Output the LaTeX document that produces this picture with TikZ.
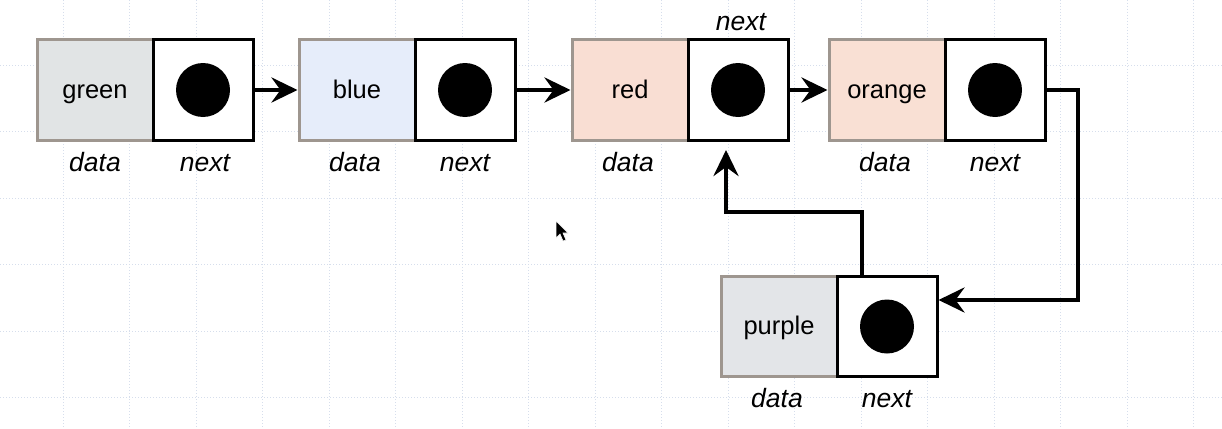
\documentclass[tikz,border=0pt]{standalone}
\usepackage{fontspec}
\setmainfont{Liberation Sans}
\usetikzlibrary{arrows.meta}
\definecolor{gridc}{RGB}{214,222,236}
\definecolor{databorder}{RGB}{158,150,143}
\definecolor{greenfill}{RGB}{225,228,229}
\definecolor{bluefill}{RGB}{230,237,250}
\definecolor{redfill}{RGB}{249,222,211}
\definecolor{orangefill}{RGB}{249,224,212}
\definecolor{purplefill}{RGB}{227,229,232}
\tikzset{
  databox/.style={draw=databorder, line width=3pt, minimum width=116pt, minimum height=100pt, inner sep=0pt, text height=20pt, text depth=4pt, font=\fontsize{25.5}{30}\selectfont},
  nextbox/.style={draw=black, line width=3pt, fill=white, minimum width=100pt, minimum height=100pt, inner sep=0pt},
  blackdot/.style={circle, fill=black, minimum size=54pt, inner sep=0pt},
  lbl/.style={font=\fontsize{26.5}{30}\selectfont\itshape, inner sep=0pt, anchor=base},
  link/.style={line width=4.5pt, -{Stealth[length=26pt,width=25pt,inset=9pt]}},
}
\begin{document}
\begin{tikzpicture}[x=1pt,y=-1pt]
\useasboundingbox (0,0) rectangle (1222,428);
\fill[white] (0,0) rectangle (1222,428);
% grid
\foreach \i in {0,...,18} {\draw[gridc, dotted, line width=1pt] ({-3.5+66.5*\i},0) -- ({-3.5+66.5*\i},428);}
\foreach \j in {1,...,6} {\draw[gridc, dotted, line width=1pt] (0,{-1.5+66.5*\j}) -- (1222,{-1.5+66.5*\j});}
% nodes
\node[databox, fill=greenfill] (gd) at (95,90) {green};
\node[nextbox] (gn) at (203,90) {};
\node[blackdot] (gdot) at (gn.center) {};
\node[databox, fill=bluefill] (bd) at (357,90) {blue};
\node[nextbox] (bn) at (465,90) {};
\node[blackdot] (bdot) at (bn.center) {};
\node[databox, fill=redfill] (rd) at (630,90) {red};
\node[nextbox] (rn) at (738,90) {};
\node[blackdot] (rdot) at (rn.center) {};
\node[databox, fill=orangefill] (od) at (887,90) {orange};
\node[nextbox] (on) at (995,90) {};
\node[blackdot] (odot) at (on.center) {};
\node[databox, fill=purplefill] (pd) at (779,326.5) {purple};
\node[nextbox] (pn) at (887,326.5) {};
\node[blackdot] (pdot) at (pn.center) {};
% labels
\node[lbl] (gdl) at (95,171) {data};
\node[lbl] (gnl) at (205,171) {next};
\node[lbl] (bdl) at (355,171) {data};
\node[lbl] (bnl) at (465,171) {next};
\node[lbl] (rdl) at (628,171) {data};
\node[lbl] (rnl) at (741,31) {next};
\node[lbl] (odl) at (885,171) {data};
\node[lbl] (onl) at (995,171) {next};
\node[lbl] (pdl) at (777,407) {data};
\node[lbl] (pnl) at (887,407) {next};
% connectors
\draw[link] (gn.east) -- (bd.west);
\draw[link] (bn.east) -- (rd.west);
\draw[link] (rn.east) -- (od.west);
\coordinate (c1) at (1078,300);
\draw[link] (on.east) -| (c1) -- (c1 -| pn.east);
\coordinate (c2) at (862,212);
\coordinate (c3) at (726,150);
\draw[link] (c2 |- pn.north) -- (c2) -| (c3);
% cursor
\filldraw[fill=black, draw=white, line width=0.6pt] (556,221) -- (556,238) -- (560,234) -- (563,241) -- (566,240) -- (563,233) -- (568,233) -- cycle;
\end{tikzpicture}
\end{document}
